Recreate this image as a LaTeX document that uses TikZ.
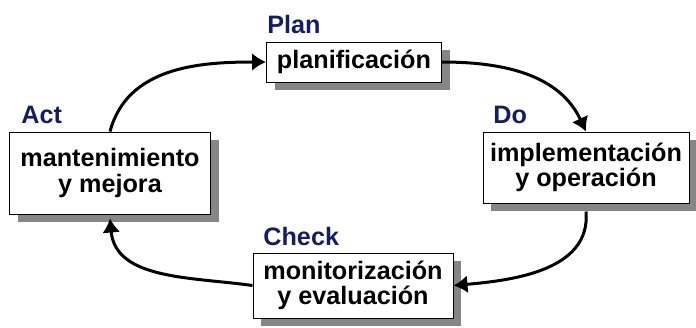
\documentclass[tikz,border=0pt]{standalone}
\usepackage{fontspec}
\setmainfont{Liberation Sans}
\usepackage{xcolor}
\usepackage{tikz}
\usetikzlibrary{arrows.meta}
\usetikzlibrary{shadows}

\definecolor{pdcanavy}{RGB}{20,30,95}

\tikzset{
  stepbox/.style={draw, fill=white, line width=0.5pt, align=center,
    font=\fontsize{12.6}{12.8}\selectfont\bfseries, inner sep=0pt,
    drop shadow={shadow xshift=4pt, shadow yshift=-4pt, fill=gray!95, opacity=1}},
  phase/.style={anchor=base west, inner sep=0pt, text=pdcanavy,
    font=\fontsize{12.6}{12.8}\selectfont\bfseries},
  cycle/.style={line width=1.5pt, -{Latex[length=7pt,width=9pt]}}
}

\begin{document}
\begin{tikzpicture}[x=0.5pt, y=-0.5pt]
      \useasboundingbox (0,0) rectangle (696,327);

      \node[stepbox, minimum width=87.5pt, minimum height=20pt] (plan) at (354,62){planificación};
      \node[stepbox, minimum width=100.5pt, minimum height=41pt] (act) at (110,173){mantenimiento\\y mejora};
      \node[stepbox, minimum width=103pt, minimum height=35.5pt] (do) at (586,167.5){implementación\\y operación};
      \node[stepbox, minimum width=100pt, minimum height=32.5pt] (check) at (353,285.5){monitorización\\y evaluación};

      \node[phase] (planlbl) at (267,33){Plan};
      \node[phase] (actlbl) at (21,123){Act};
      \node[phase] (dolbl) at (493,123){Do};
      \node[phase] (checklbl) at (263,245){Check};

      \draw[cycle] (act.north) to[out=75, in=180] (plan.west);
      \draw[cycle] (plan.east) to[out=0, in=115] (do.north);
      \draw[cycle] ([yshift=-4pt]do.south) to[out=-85, in=5] (check.east);
      \draw[cycle] (check.west) to[out=172, in=-85] ([yshift=-2pt]act.south);
    \end{tikzpicture}
\end{document}
